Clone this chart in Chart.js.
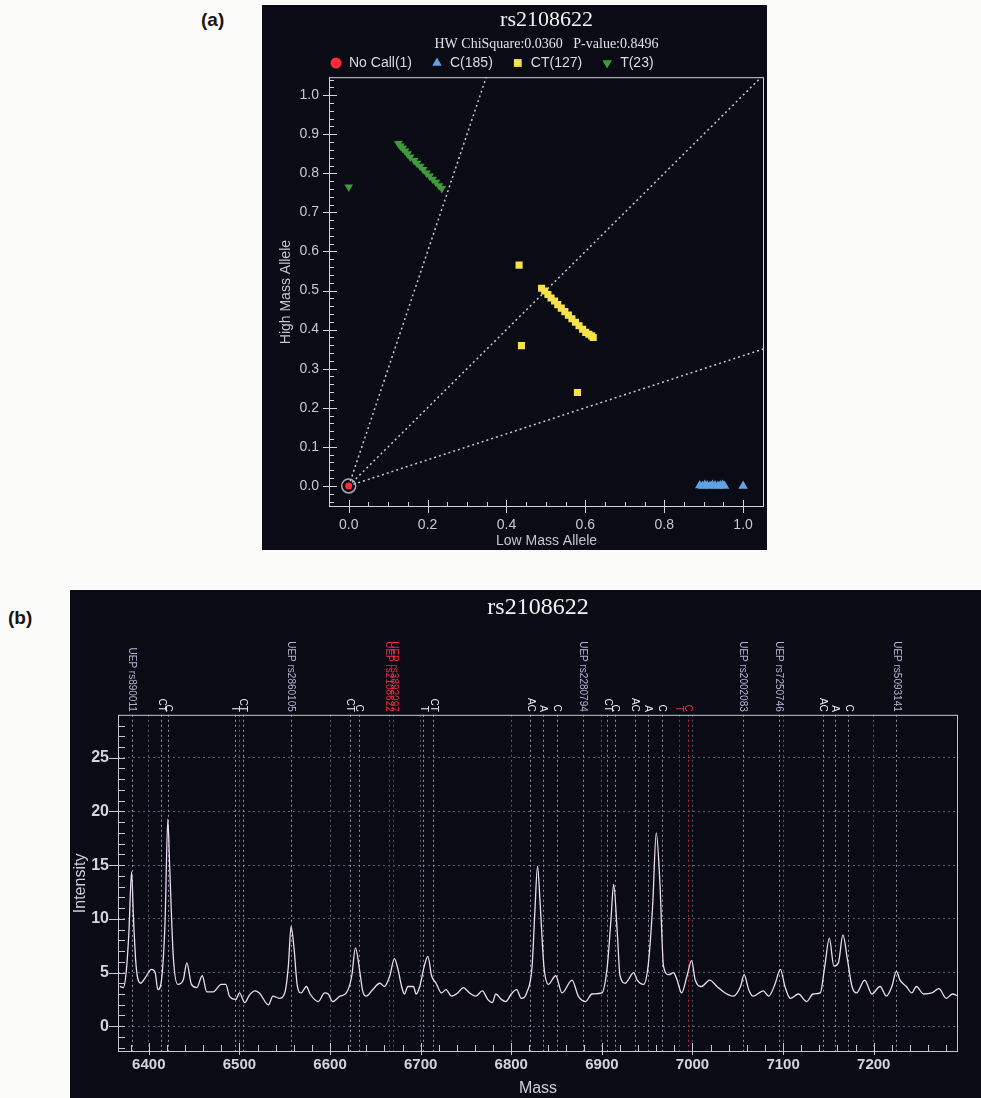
<!DOCTYPE html>
<html lang="en">
<head>
<meta charset="utf-8">
<title>rs2108622</title>
<script src="https://cdn.jsdelivr.net/npm/chart.js@4.4.1/dist/chart.umd.min.js"></script>
<style>
    html, body { margin: 0; padding: 0; }
    body {
        width: 981px; height: 1098px; overflow: hidden; position: relative;
        background: #fbfbfa; font-family: 'Liberation Sans', Arial, sans-serif;
    }
    .panel { position: absolute; background: #0b0b15; }
    #panelA { left: 262px; top: 5px; width: 505px; height: 545px; }
    #panelB { left: 70px; top: 590px; width: 911px; height: 508px; }
    canvas { position: absolute; }
    #chartA { left: 262px; top: 5px; }
    #chartB { left: 70px; top: 590px; }
    .tag { position: absolute; font-weight: bold; font-size: 19px; color: #151515; }
</style>
</head>
<body>
<div class="tag" style="left:201px;top:9px">(a)</div>
<div class="tag" style="left:8px;top:607px">(b)</div>
<div class="panel" id="panelA"></div>
<div class="panel" id="panelB"></div>
<canvas id="chartA" width="505" height="545"></canvas>
<canvas id="chartB" width="911" height="508"></canvas>

<script>
// ==========================================
// 1. DATA
// ==========================================

const snpName = 'rs2108622';
const hwText = 'HW ChiSquare:0.0360   P-value:0.8496';
const genotypeLabels = ['No Call(1)', 'C(185)', 'CT(127)', 'T(23)'];

// cluster plot (a): low mass allele (x) / high mass allele (y)
const noCallLow = [0.0];
const noCallHigh = [0.0];
const cLow = [0.890, 0.897, 0.903, 0.909, 0.916, 0.922, 0.929, 0.936, 0.942, 0.948, 0.953, 1.0];
const cHigh = [0.001, 0.000, 0.002, 0.001, 0.000, 0.002, 0.001, 0.000, 0.001, 0.002, 0.000, 0.000];
const ctLow = [0.489, 0.497, 0.505, 0.513, 0.522, 0.530, 0.539, 0.548, 0.557, 0.566, 0.575, 0.584, 0.593, 0.601, 0.609, 0.616, 0.620, 0.432, 0.438, 0.580];
const ctHigh = [0.506, 0.499, 0.490, 0.481, 0.473, 0.464, 0.455, 0.446, 0.437, 0.428, 0.419, 0.410, 0.401, 0.393, 0.388, 0.384, 0.380, 0.565, 0.359, 0.239];
const tLow = [0.000, 0.126, 0.131, 0.137, 0.143, 0.149, 0.156, 0.166, 0.173, 0.181, 0.189, 0.197, 0.205, 0.213, 0.221, 0.229, 0.236];
const tHigh = [0.765, 0.876, 0.870, 0.864, 0.857, 0.850, 0.842, 0.833, 0.826, 0.818, 0.810, 0.801, 0.793, 0.785, 0.777, 0.768, 0.761];
const guideSlopes = [3, 1, 1 / 3];
const alleleTicksX = [0, 0.2, 0.4, 0.6, 0.8, 1.0];
const alleleTicksY = [0, 0.1, 0.2, 0.3, 0.4, 0.5, 0.6, 0.7, 0.8, 0.9, 1.0];

// spectrum (b)
const spectrumMass = [6368, 6372, 6375, 6378, 6381, 6383, 6386, 6391, 6396, 6403, 6407, 6410, 6414, 6418, 6421, 6423, 6427, 6432, 6438, 6442,
    6447, 6453, 6459, 6464, 6471, 6480, 6485, 6489, 6496, 6500, 6506, 6511, 6517, 6522, 6532, 6537, 6544, 6550, 6554, 6557,
    6560, 6564, 6568, 6574, 6578, 6587, 6594, 6598, 6603, 6611, 6618, 6624, 6628, 6633, 6636, 6640, 6647, 6655, 6660, 6666,
    6671, 6675, 6679, 6682, 6686, 6692, 6695, 6699, 6704, 6708, 6712, 6717, 6723, 6728, 6734, 6741, 6747, 6754, 6761, 6768,
    6774, 6779, 6783, 6789, 6794, 6800, 6806, 6811, 6817, 6823, 6826, 6829, 6832, 6836, 6841, 6849, 6856, 6867, 6874, 6882,
    6889, 6900, 6906, 6910, 6913, 6917, 6920, 6926, 6929, 6935, 6939, 6946, 6951, 6956, 6960, 6964, 6968, 6974, 6979, 6983,
    6988, 6994, 6999, 7003, 7010, 7019, 7027, 7036, 7045, 7053, 7057, 7062, 7067, 7078, 7084, 7091, 7097, 7102, 7108, 7117,
    7126, 7133, 7141, 7146, 7151, 7156, 7161, 7166, 7171, 7176, 7181, 7190, 7198, 7207, 7214, 7220, 7225, 7229, 7236, 7242,
    7247, 7255, 7264, 7272, 7280, 7287, 7293];
const spectrumIntensity = [3.7, 3.6, 5.0, 8.7, 14.4, 10.2, 5.6, 4.0, 4.5, 5.3, 5.0, 3.4, 4.3, 9.9, 19.3, 14.9, 6.5, 3.9, 4.3, 5.9,
    3.9, 3.6, 4.7, 3.2, 3.2, 3.9, 3.9, 2.8, 2.5, 3.1, 2.2, 2.9, 3.3, 3.1, 2.0, 2.8, 2.6, 3.1, 5.6, 9.3,
    7.5, 3.7, 3.1, 3.7, 3.0, 2.3, 3.1, 3.0, 2.3, 2.8, 3.1, 4.7, 7.3, 5.0, 3.3, 2.8, 3.4, 4.0, 3.7, 4.7,
    6.3, 5.3, 3.7, 3.0, 3.7, 3.7, 3.0, 3.7, 5.6, 6.5, 4.7, 4.0, 3.1, 3.4, 2.8, 3.1, 3.6, 3.1, 2.8, 3.3,
    2.5, 2.2, 3.0, 2.5, 2.3, 3.0, 3.4, 2.6, 3.1, 5.6, 10.6, 14.9, 11.2, 5.6, 3.9, 4.7, 3.1, 4.3, 2.8, 2.3,
    3.0, 3.1, 5.6, 9.9, 13.2, 8.7, 4.7, 4.0, 4.3, 5.0, 4.3, 3.9, 5.6, 11.2, 18.0, 13.4, 5.6, 4.8, 5.0, 4.3,
    3.1, 4.7, 6.1, 4.3, 3.7, 4.3, 3.7, 3.1, 2.8, 3.7, 4.8, 3.4, 2.8, 3.3, 2.8, 3.9, 5.3, 3.7, 2.6, 3.0,
    2.3, 3.0, 3.1, 5.6, 8.2, 5.6, 5.9, 8.5, 6.2, 3.7, 3.1, 4.3, 3.0, 3.7, 2.8, 3.7, 5.1, 4.3, 3.7, 3.1,
    3.7, 3.0, 3.1, 3.5, 2.6, 3.0, 2.8];
const massTicks = [6400, 6500, 6600, 6700, 6800, 6900, 7000, 7100, 7200];
const intensityTicks = [0, 5, 10, 15, 20, 25];

// expected masses marked above the spectrum
const markerMass = [6381, 6414, 6421, 6495, 6504, 6557, 6622, 6632, 6665, 6670, 6703, 6714,
    6821, 6835, 6850, 6879, 6906, 6914, 6936, 6951, 6966, 6985, 6995, 7056, 7095, 7144, 7157, 7172, 7225];
const markerLabels = ['UEP rs890011', 'CT', 'C', 'T', 'CT', 'UEP rs2860105', 'CT', 'C', 'UEP rs2108622', 'UEP rs3892097', 'T', 'CT',
    'AC', 'A', 'C', 'UEP rs2280794', 'CT', 'C', 'AC', 'A', 'C', 'T', 'C', 'UEP rs2002083', 'UEP rs7250746', 'AC', 'A', 'C', 'UEP rs5093141'];
const markerTarget = [0, 0, 0, 0, 0, 0, 0, 0, 1, 1, 0, 0, 0, 0, 0, 0, 0, 0, 0, 0, 0, 1, 1, 0, 0, 0, 0, 0, 0];

// ==========================================
// 2. SHARED STYLE AND PLUGINS
// ==========================================

const sans = "'Liberation Sans', Arial, sans-serif";
const serif = "'Liberation Serif', 'Times New Roman', serif";
Chart.defaults.font.family = sans;
Chart.defaults.animation = false;

const toPoints = (xs, ys) => xs.map((v, i) => ({ x: v, y: ys[i] }));

// keep the plot area where the frame is, whatever the edge labels measure
const noEdgePadding = s => { s.paddingLeft = 0; s.paddingRight = 0; };

// frame round the plot area with major and minor ticks
const frameTicks = {
    id: 'frameTicks',
    afterDatasetsDraw(chart, args, o) {
        const { ctx, chartArea: a, scales: { x, y } } = chart;
        const px = v => Math.round(x.getPixelForValue(v)) + 0.5;
        const py = v => Math.round(y.getPixelForValue(v)) + 0.5;
        ctx.save();
        ctx.strokeStyle = o.color;
        ctx.lineWidth = 1;
        ctx.strokeRect(a.left + 0.5, a.top + 0.5, a.width - 1, a.height - 1);
        ctx.beginPath();
        for (let v = Math.ceil(x.min / o.xMinor) * o.xMinor; v < x.max; v += o.xMinor) {
            ctx.moveTo(px(v), a.bottom);
            ctx.lineTo(px(v), a.bottom - o.xMinorLen);
        }
        for (let v = Math.ceil(y.min / o.yMinor) * o.yMinor; v < y.max; v += o.yMinor) {
            ctx.moveTo(a.left, py(v));
            ctx.lineTo(a.left + o.yMinorLen, py(v));
        }
        x.ticks.forEach(t => {
            ctx.moveTo(px(t.value), a.bottom + o.xMajorOut);
            ctx.lineTo(px(t.value), a.bottom - o.xMajorIn);
        });
        y.ticks.forEach(t => {
            ctx.moveTo(a.left - o.yMajorOut, py(t.value));
            ctx.lineTo(a.left + o.yMajorIn, py(t.value));
        });
        ctx.stroke();
        ctx.restore();
    }
};

// genotype legend under the subtitle of (a)
const genotypeLegend = {
    id: 'genotypeLegend',
    afterDraw(chart, args, o) {
        const { ctx, chartArea: a } = chart;
        let cx = a.left + o.start;
        ctx.save();
        ctx.font = o.size + 'px ' + sans;
        ctx.textBaseline = 'middle';
        genotypeLabels.forEach(label => {
            const ds = chart.data.datasets.find(d => d.label === label);
            ctx.fillStyle = ds.backgroundColor;
            Chart.helpers.drawPoint(ctx, {
                pointStyle: ds.pointStyle, rotation: ds.pointRotation || 0,
                radius: o.radius, borderWidth: 0
            }, cx, o.y);
            ctx.fillStyle = o.color;
            ctx.fillText(label, cx + o.textGap, o.y);
            cx += o.textGap + ctx.measureText(label).width + o.itemGap;
        });
        ctx.restore();
    }
};

// dotted lines and rotated names for the expected masses
const massMarkers = {
    id: 'massMarkers',
    beforeDatasetsDraw(chart, args, o) {
        const { ctx, chartArea: a, scales: { x } } = chart;
        ctx.save();
        ctx.lineWidth = 1;
        ctx.setLineDash([2, 3]);
        markerMass.forEach((m, i) => {
            const px = Math.round(x.getPixelForValue(m)) + 0.5;
            ctx.strokeStyle = markerTarget[i] ? o.targetLine : o.line;
            ctx.beginPath();
            ctx.moveTo(px, a.top);
            ctx.lineTo(px, a.bottom);
            ctx.stroke();
        });
        ctx.restore();
    },
    afterDraw(chart, args, o) {
        const { ctx, chartArea: a, scales: { x } } = chart;
        ctx.save();
        ctx.font = o.size + 'px ' + sans;
        ctx.textAlign = 'right';
        ctx.textBaseline = 'middle';
        markerMass.forEach((m, i) => {
            const label = markerLabels[i];
            ctx.fillStyle = markerTarget[i] ? o.targetText : (label.startsWith('UEP') ? o.uepText : o.alleleText);
            ctx.save();
            ctx.translate(x.getPixelForValue(m), a.top - o.gap);
            ctx.rotate(Math.PI / 2);
            ctx.fillText(label, 0, 0);
            ctx.restore();
        });
        ctx.restore();
    }
};

// ==========================================
// 3. CHART (a) - CLUSTER PLOT
// ==========================================

const guideSets = guideSlopes.map(s => ({
    label: 'guide',
    data: [{ x: 0, y: 0 }, { x: 2, y: 2 * s }],
    showLine: true,
    borderColor: '#c8c8d8',
    borderWidth: 1.5,
    borderDash: [2, 3],
    pointRadius: 0
}));

new Chart(document.getElementById('chartA'), {
    type: 'scatter',
    data: {
        datasets: [
            { label: genotypeLabels[0], data: toPoints(noCallLow, noCallHigh), pointStyle: 'circle', pointRadius: 3.5, pointBorderWidth: 0, backgroundColor: '#ff2b3c' },
            { label: 'ring', data: toPoints(noCallLow, noCallHigh), pointStyle: 'circle', pointRadius: 7, pointBorderWidth: 1.5, backgroundColor: 'rgba(0,0,0,0)', borderColor: '#a8a8b6' },
            { label: genotypeLabels[3], data: toPoints(tLow, tHigh), pointStyle: 'triangle', pointRotation: 180, pointRadius: 5, pointBorderWidth: 0, backgroundColor: '#3f9b3b' },
            { label: genotypeLabels[2], data: toPoints(ctLow, ctHigh), pointStyle: 'rect', pointRadius: 5, pointBorderWidth: 0, backgroundColor: '#f3e24c' },
            { label: genotypeLabels[1], data: toPoints(cLow, cHigh), pointStyle: 'triangle', pointRadius: 5.5, pointBorderWidth: 0, backgroundColor: '#62a2e2' },
            ...guideSets
        ]
    },
    options: {
        responsive: false,
        events: [],
        layout: { autoPadding: false, padding: { left: 0, right: 3, top: 0, bottom: 0 } },
        plugins: {
            legend: { display: false },
            tooltip: { enabled: false },
            title: {
                display: true, fullSize: false, text: snpName, color: '#f2f2f2',
                font: { family: serif, size: 22, weight: 'normal' },
                padding: { top: 2, bottom: 0 }
            },
            subtitle: {
                display: true, fullSize: false, text: hwText, color: '#e2e2e6',
                font: { family: serif, size: 14 },
                padding: { top: 3, bottom: 24 }
            },
            genotypeLegend: { start: 7, y: 58, radius: 5.5, size: 14, textGap: 13, itemGap: 25, color: '#dadae4' },
            frameTicks: {
                color: '#d4d0dc', xMinor: 0.05, yMinor: 0.02,
                xMinorLen: 5, xMajorIn: 7, xMajorOut: 6,
                yMinorLen: 5, yMajorIn: 8, yMajorOut: 6
            }
        },
        scales: {
            x: {
                type: 'linear', min: -0.05, max: 1.053,
                afterBuildTicks: s => { s.ticks = alleleTicksX.map(v => ({ value: v })); },
                afterFit: s => { s.height = 43; noEdgePadding(s); },
                ticks: { autoSkip: false, maxRotation: 0, padding: 10, color: '#c8c8d4', font: { size: 14 }, callback: v => v.toFixed(1) },
                grid: { display: false, drawTicks: false },
                border: { display: false },
                title: { display: true, text: 'Low Mass Allele', color: '#c4c4d0', font: { size: 14 }, padding: { top: 0, bottom: 0 } }
            },
            y: {
                type: 'linear', min: -0.054, max: 1.046,
                afterBuildTicks: s => { s.ticks = alleleTicksY.map(v => ({ value: v })); },
                afterFit: s => { s.width = 67; },
                ticks: { autoSkip: false, padding: 10, color: '#c8c8d4', font: { size: 14 }, callback: v => v.toFixed(1) },
                grid: { display: false, drawTicks: false },
                border: { display: false },
                title: { display: true, text: 'High Mass Allele', color: '#c4c4d0', font: { size: 14 }, padding: { top: 16, bottom: 0 } }
            }
        }
    },
    plugins: [frameTicks, genotypeLegend]
});

// ==========================================
// 4. CHART (b) - MASS SPECTRUM
// ==========================================

new Chart(document.getElementById('chartB'), {
    type: 'scatter',
    data: {
        datasets: [{
            label: snpName,
            data: toPoints(spectrumMass, spectrumIntensity),
            showLine: true,
            borderColor: '#e9ddef',
            borderWidth: 1.3,
            pointRadius: 0,
            cubicInterpolationMode: 'monotone'
        }]
    },
    options: {
        responsive: false,
        events: [],
        layout: { autoPadding: false, padding: { left: 0, right: 23, top: 0, bottom: 0 } },
        plugins: {
            legend: { display: false },
            tooltip: { enabled: false },
            title: {
                display: true, fullSize: false, text: snpName, color: '#f2f2f2',
                font: { family: serif, size: 24, weight: 'normal' },
                padding: { top: 3, bottom: 93 }
            },
            massMarkers: {
                line: '#9090a8', targetLine: '#a8283c', gap: 3, size: 10,
                uepText: '#b4b4d2', alleleText: '#ececf4', targetText: '#ee2a40'
            },
            frameTicks: {
                color: '#c8c4d4', xMinor: 20, yMinor: 1,
                xMinorLen: 7, xMajorIn: 9, xMajorOut: 3,
                yMinorLen: 7, yMajorIn: 0, yMajorOut: 9
            }
        },
        scales: {
            x: {
                type: 'linear', min: 6366, max: 7293,
                afterBuildTicks: s => { s.ticks = massTicks.map(v => ({ value: v })); },
                afterFit: s => { s.height = 46; noEdgePadding(s); },
                ticks: { autoSkip: false, maxRotation: 0, padding: 4, color: '#d4d4e0', font: { size: 15, weight: 'bold' }, callback: v => String(v) },
                grid: { color: '#5a5a72', lineWidth: 1, drawTicks: false },
                border: { display: false, dash: [2, 3] },
                title: { display: true, text: 'Mass', color: '#d0d0dc', font: { size: 16 }, padding: { top: 0, bottom: 0 } }
            },
            y: {
                type: 'linear', min: -2.4, max: 29,
                afterBuildTicks: s => { s.ticks = intensityTicks.map(v => ({ value: v })); },
                afterFit: s => { s.width = 48; },
                ticks: { autoSkip: false, padding: 9, color: '#d4d4e0', font: { size: 16, weight: 'bold' }, callback: v => String(v) },
                grid: { color: '#5a5a72', lineWidth: 1, drawTicks: false },
                border: { display: false, dash: [2, 3] },
                title: { display: true, text: 'Intensity', color: '#d0d0dc', font: { size: 16 }, padding: { top: 1, bottom: 0 } }
            }
        }
    },
    plugins: [frameTicks, massMarkers]
});
</script>
</body>
</html>
